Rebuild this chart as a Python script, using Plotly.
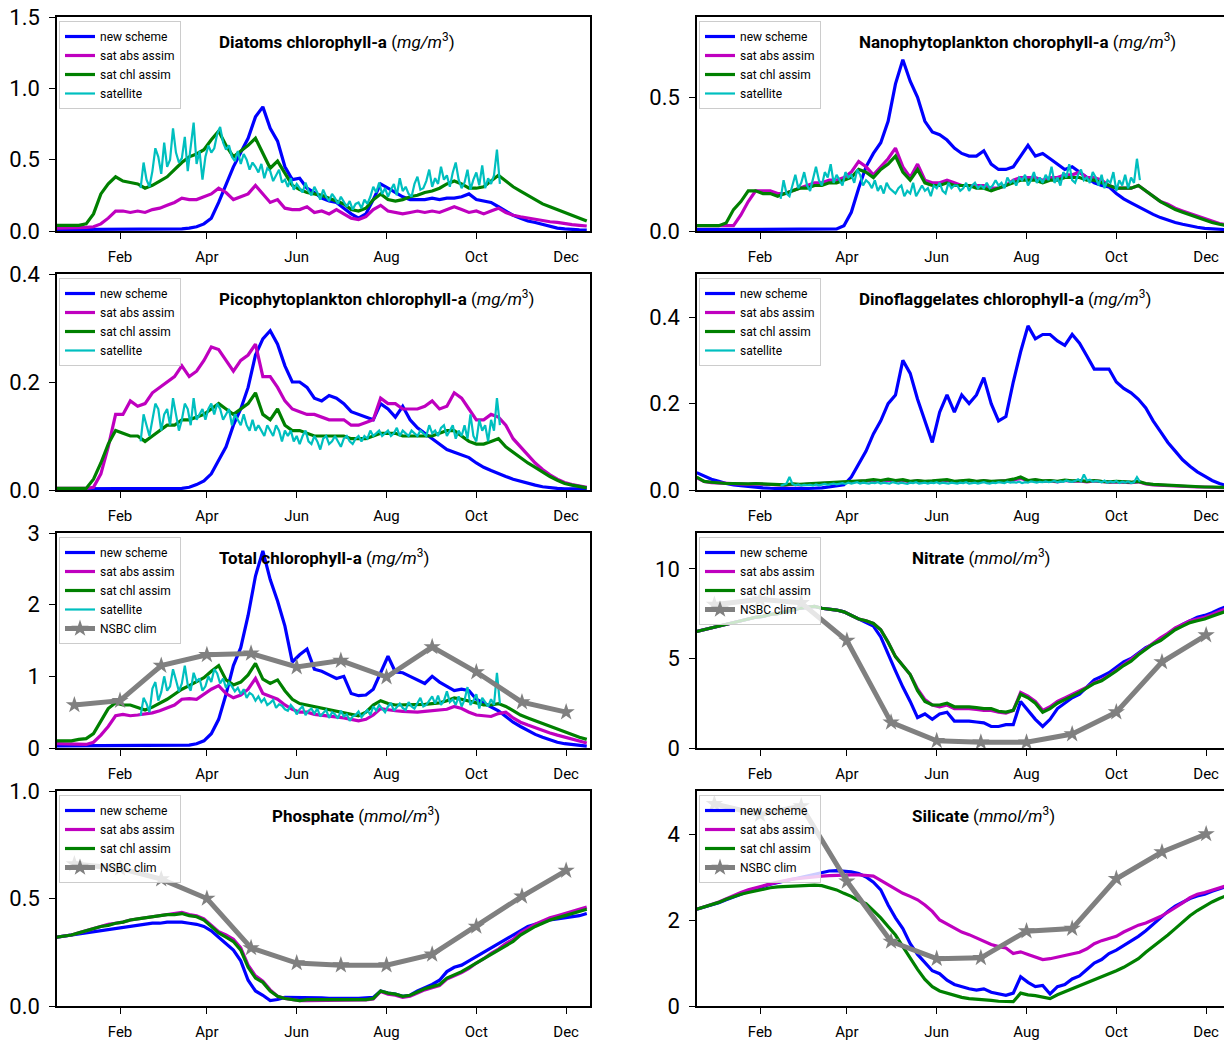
import pandas as pd
import plotly.graph_objects as go

# ---------------------------------------------------------------------------
# Time axes: 5-day model output, 2-day satellite composites, monthly climatology
# ---------------------------------------------------------------------------
model_dates = pd.date_range("2017-12-20", periods=73, freq="5D")
sat_dates = pd.date_range("2018-02-15", periods=123, freq="2D")
clim_dates = pd.date_range("2018-01-01", periods=12, freq="MS")

series_names = ["new scheme", "sat abs assim", "sat chl assim", "satellite", "NSBC clim"]

# ---------------------------------------------------------------- Diatoms
diatoms_new = [
    0.01, 0.01, 0.01,
    0.01, 0.01, 0.01, 0.01, 0.01, 0.01,
    0.01, 0.01, 0.01, 0.01, 0.01, 0.01,
    0.01, 0.01, 0.015, 0.02, 0.03, 0.05,
    0.09, 0.2, 0.33, 0.45, 0.55, 0.65,
    0.8, 0.87, 0.72, 0.63, 0.45, 0.36,
    0.37, 0.3, 0.27, 0.23, 0.21, 0.2,
    0.16, 0.12, 0.09, 0.12, 0.22, 0.33,
    0.3, 0.27, 0.24, 0.22, 0.22, 0.22,
    0.23, 0.22, 0.23, 0.23, 0.24, 0.26,
    0.22, 0.21, 0.2, 0.17, 0.14, 0.11,
    0.09, 0.07, 0.06, 0.045, 0.03, 0.02,
    0.015, 0.01, 0.008, 0.006]
diatoms_abs = [
    0.02, 0.02, 0.02,
    0.02, 0.025, 0.03, 0.05, 0.09, 0.14,
    0.14, 0.13, 0.14, 0.13, 0.15, 0.16,
    0.18, 0.2, 0.23, 0.22, 0.22, 0.24,
    0.26, 0.3, 0.27, 0.22, 0.24, 0.26,
    0.32, 0.26, 0.2, 0.22, 0.16, 0.15,
    0.15, 0.17, 0.13, 0.14, 0.12, 0.15,
    0.12, 0.09, 0.08, 0.1, 0.15, 0.18,
    0.14, 0.13, 0.12, 0.13, 0.14, 0.13,
    0.14, 0.13, 0.15, 0.17, 0.15, 0.13,
    0.14, 0.12, 0.14, 0.16, 0.13, 0.11,
    0.1, 0.09, 0.08, 0.07, 0.065, 0.06,
    0.05, 0.045, 0.04, 0.035]
diatoms_chl = [
    0.04, 0.04, 0.04,
    0.04, 0.05, 0.12, 0.26, 0.33, 0.38,
    0.35, 0.34, 0.33, 0.3, 0.32, 0.35,
    0.38, 0.43, 0.48, 0.52, 0.54, 0.57,
    0.64, 0.7, 0.6, 0.52, 0.56, 0.6,
    0.65, 0.55, 0.44, 0.49, 0.4, 0.32,
    0.29, 0.27, 0.26, 0.25, 0.23, 0.21,
    0.19, 0.15, 0.14, 0.16, 0.22, 0.26,
    0.22, 0.21, 0.22, 0.24, 0.25, 0.27,
    0.28, 0.3, 0.33, 0.35, 0.33, 0.3,
    0.3, 0.31, 0.35, 0.39, 0.35, 0.31,
    0.28, 0.25, 0.22, 0.19, 0.17, 0.15,
    0.13, 0.11, 0.09, 0.07]
diatoms_sat = [
    0.3, 0.48, 0.36, 0.31, 0.42, 0.58, 0.52, 0.4, 0.62, 0.45,
    0.5, 0.72, 0.55, 0.48, 0.51, 0.66, 0.42, 0.6, 0.76, 0.47,
    0.56, 0.36, 0.52, 0.6, 0.55, 0.58, 0.68, 0.73, 0.62, 0.57,
    0.6, 0.52, 0.49, 0.56, 0.47, 0.54, 0.5, 0.43, 0.48, 0.45,
    0.41, 0.47, 0.37, 0.44, 0.42, 0.35, 0.39, 0.43, 0.34, 0.36,
    0.31, 0.37, 0.29, 0.33, 0.3, 0.27, 0.34, 0.28, 0.25, 0.31,
    0.27, 0.22, 0.29, 0.24, 0.21, 0.26, 0.23, 0.19, 0.24, 0.2,
    0.17, 0.21, 0.15, 0.19, 0.2, 0.16, 0.22, 0.19, 0.24, 0.31,
    0.27, 0.34, 0.26, 0.3, 0.24, 0.29, 0.33, 0.25, 0.37, 0.28,
    0.31, 0.26, 0.24, 0.33, 0.38, 0.29, 0.3, 0.35, 0.43, 0.31,
    0.37, 0.33, 0.45, 0.36, 0.39, 0.31, 0.41, 0.48, 0.36, 0.3,
    0.34, 0.43, 0.29, 0.36, 0.41, 0.32, 0.46, 0.3, 0.37, 0.33,
    0.39, 0.57, 0.33]

# ------------------------------------------------------ Nanophytoplankton
nano_new = [
    0.005, 0.005, 0.005,
    0.005, 0.005, 0.005, 0.005, 0.005, 0.005,
    0.005, 0.005, 0.005, 0.005, 0.005, 0.005,
    0.005, 0.005, 0.005, 0.005, 0.008, 0.02,
    0.07, 0.16, 0.24, 0.29, 0.33, 0.41,
    0.55, 0.64, 0.56, 0.5, 0.41, 0.37,
    0.36, 0.34, 0.31, 0.29, 0.28, 0.28,
    0.3, 0.25, 0.23, 0.23, 0.24, 0.28,
    0.32, 0.28, 0.29, 0.27, 0.25, 0.23,
    0.24, 0.22, 0.2, 0.18, 0.17, 0.165,
    0.14, 0.12, 0.105, 0.09, 0.075, 0.062,
    0.05, 0.04, 0.032, 0.025, 0.019, 0.014,
    0.01, 0.008, 0.006, 0.005]
nano_abs = [
    0.02, 0.02, 0.02,
    0.02, 0.02, 0.02, 0.06, 0.11, 0.15,
    0.15, 0.15, 0.14, 0.14, 0.15, 0.16,
    0.17, 0.18, 0.18, 0.19, 0.19, 0.2,
    0.22, 0.26, 0.24, 0.21, 0.24, 0.27,
    0.31, 0.24, 0.2, 0.25, 0.19, 0.18,
    0.18, 0.19, 0.18, 0.17, 0.17, 0.17,
    0.17, 0.16, 0.16, 0.17, 0.19, 0.2,
    0.2, 0.2, 0.19, 0.2, 0.2, 0.21,
    0.21, 0.22, 0.2, 0.2, 0.19, 0.17,
    0.16, 0.16, 0.16, 0.17, 0.15, 0.13,
    0.11, 0.1, 0.085, 0.075, 0.065, 0.055,
    0.045, 0.035, 0.028, 0.022]
nano_chl = [
    0.02, 0.02, 0.02,
    0.02, 0.03, 0.08, 0.11, 0.15, 0.15,
    0.14, 0.14, 0.13, 0.14, 0.15, 0.16,
    0.16, 0.17, 0.17, 0.18, 0.18, 0.19,
    0.2, 0.23, 0.22, 0.2, 0.23, 0.25,
    0.28, 0.22, 0.19, 0.23, 0.18, 0.17,
    0.17, 0.18, 0.17, 0.17, 0.17, 0.16,
    0.16, 0.15, 0.16, 0.17, 0.18, 0.19,
    0.19, 0.19, 0.18, 0.19, 0.19, 0.2,
    0.2, 0.2, 0.19, 0.19, 0.18, 0.17,
    0.16, 0.16, 0.16, 0.17, 0.15, 0.13,
    0.11, 0.095, 0.08, 0.07, 0.06, 0.05,
    0.04, 0.032, 0.025, 0.02]
nano_sat = [
    0.12, 0.19, 0.14, 0.13, 0.17, 0.21, 0.16, 0.18, 0.22, 0.17,
    0.15, 0.2, 0.24, 0.19, 0.17, 0.22, 0.2, 0.25, 0.18, 0.21,
    0.19, 0.17, 0.22, 0.2, 0.21, 0.18, 0.23, 0.21, 0.17, 0.19,
    0.18, 0.16, 0.19, 0.15, 0.17, 0.14, 0.18, 0.16, 0.15, 0.14,
    0.16, 0.17, 0.13, 0.15, 0.14, 0.18, 0.13, 0.15, 0.17, 0.15,
    0.16, 0.13, 0.17, 0.16, 0.18, 0.15, 0.14, 0.18, 0.16, 0.17,
    0.17, 0.15, 0.16, 0.18, 0.15, 0.17, 0.18, 0.16, 0.17, 0.16,
    0.18, 0.16, 0.17, 0.19, 0.17, 0.18, 0.16, 0.2, 0.18, 0.19,
    0.17, 0.2, 0.19, 0.21, 0.17, 0.19, 0.22, 0.18, 0.2, 0.18,
    0.21, 0.19, 0.24, 0.18, 0.2, 0.17, 0.22, 0.2, 0.25, 0.19,
    0.18, 0.21, 0.23, 0.19, 0.2, 0.18, 0.22, 0.2, 0.17, 0.21,
    0.16, 0.19, 0.18, 0.22, 0.15, 0.19, 0.17, 0.21, 0.16, 0.2,
    0.18, 0.27, 0.19]

# ------------------------------------------------------ Picophytoplankton
pico_new = [
    0.002, 0.002, 0.002,
    0.002, 0.002, 0.002, 0.002, 0.002, 0.002,
    0.002, 0.002, 0.002, 0.002, 0.002, 0.002,
    0.002, 0.002, 0.003, 0.005, 0.01, 0.017,
    0.03, 0.055, 0.08, 0.12, 0.15, 0.19,
    0.25, 0.28, 0.295, 0.27, 0.23, 0.2,
    0.2, 0.19, 0.17, 0.165, 0.175, 0.17,
    0.16, 0.145, 0.14, 0.135, 0.13, 0.16,
    0.15, 0.135, 0.155, 0.13, 0.115, 0.105,
    0.095, 0.085, 0.075, 0.07, 0.065, 0.06,
    0.05, 0.042, 0.036, 0.03, 0.025, 0.02,
    0.016, 0.012, 0.009, 0.006, 0.004, 0.003,
    0.002, 0.002, 0.002, 0.002]
pico_abs = [
    0.003, 0.003, 0.003,
    0.003, 0.003, 0.005, 0.03, 0.08, 0.14,
    0.14, 0.165, 0.155, 0.16, 0.18, 0.19,
    0.2, 0.21, 0.23, 0.21, 0.22, 0.24,
    0.265, 0.26, 0.24, 0.22, 0.24, 0.25,
    0.27, 0.21, 0.21, 0.19, 0.165, 0.15,
    0.145, 0.14, 0.14, 0.135, 0.13, 0.13,
    0.13, 0.12, 0.12, 0.125, 0.13, 0.17,
    0.16, 0.16, 0.15, 0.15, 0.15, 0.155,
    0.165, 0.15, 0.155, 0.18, 0.17, 0.15,
    0.13, 0.13, 0.14, 0.135, 0.12, 0.095,
    0.08, 0.065, 0.05, 0.038, 0.028, 0.02,
    0.014, 0.01, 0.007, 0.005]
pico_chl = [
    0.003, 0.003, 0.003,
    0.003, 0.003, 0.02, 0.05, 0.085, 0.11,
    0.105, 0.1, 0.1, 0.09, 0.1, 0.11,
    0.12, 0.12, 0.13, 0.13, 0.135, 0.14,
    0.15, 0.16, 0.15, 0.14, 0.15, 0.16,
    0.18, 0.14, 0.13, 0.15, 0.12, 0.11,
    0.11, 0.105, 0.1, 0.1, 0.1, 0.1,
    0.1, 0.095, 0.095, 0.095, 0.1, 0.105,
    0.105, 0.105, 0.1, 0.1, 0.1, 0.1,
    0.1, 0.105, 0.11, 0.11, 0.1, 0.09,
    0.085, 0.085, 0.09, 0.095, 0.08, 0.07,
    0.06, 0.05, 0.042, 0.033, 0.025, 0.018,
    0.012, 0.009, 0.006, 0.004]
pico_sat = [
    0.09, 0.14, 0.12, 0.1, 0.13, 0.16, 0.15, 0.11, 0.14, 0.15,
    0.12, 0.17, 0.14, 0.11, 0.13, 0.16, 0.15, 0.12, 0.17, 0.13,
    0.14, 0.15, 0.13, 0.15, 0.16, 0.14, 0.16, 0.15, 0.13, 0.14,
    0.15, 0.12, 0.14, 0.13, 0.12, 0.14, 0.12, 0.11, 0.13, 0.11,
    0.12, 0.11, 0.1, 0.12, 0.11, 0.1, 0.12, 0.11, 0.09, 0.11,
    0.1, 0.11, 0.09, 0.1, 0.085, 0.1, 0.11, 0.09, 0.085, 0.1,
    0.09, 0.075, 0.095, 0.1, 0.085, 0.09, 0.1, 0.09, 0.08, 0.095,
    0.1, 0.09, 0.085, 0.095, 0.1, 0.09, 0.1, 0.095, 0.11, 0.1,
    0.105, 0.11, 0.1, 0.105, 0.11, 0.1, 0.105, 0.115, 0.1, 0.11,
    0.105, 0.1, 0.11, 0.105, 0.1, 0.11, 0.105, 0.1, 0.12, 0.105,
    0.11, 0.1, 0.115, 0.12, 0.1, 0.11, 0.12, 0.095, 0.11, 0.1,
    0.12, 0.095, 0.14, 0.1, 0.09, 0.13, 0.11, 0.12, 0.09, 0.13,
    0.11, 0.17, 0.12]

# -------------------------------------------------------- Dinoflagellates
dino_new = [
    0.04, 0.032, 0.025,
    0.02, 0.015, 0.012, 0.01, 0.008, 0.006,
    0.005, 0.004, 0.003, 0.003, 0.003, 0.003,
    0.003, 0.004, 0.005, 0.007, 0.01, 0.012,
    0.03, 0.06, 0.09, 0.13, 0.16, 0.2,
    0.22, 0.3, 0.27, 0.21, 0.16, 0.11,
    0.18, 0.22, 0.18, 0.22, 0.2, 0.22,
    0.26, 0.2, 0.16, 0.17, 0.25, 0.32,
    0.38, 0.35, 0.36, 0.36, 0.345, 0.335,
    0.36, 0.34, 0.31, 0.28, 0.28, 0.28,
    0.25, 0.235, 0.225, 0.21, 0.19, 0.16,
    0.135, 0.11, 0.09, 0.07, 0.055, 0.042,
    0.032, 0.022, 0.015, 0.01]
dino_abs = [
    0.028, 0.02, 0.017,
    0.016, 0.015, 0.014, 0.014, 0.013, 0.014,
    0.013, 0.012, 0.012, 0.011, 0.013, 0.012,
    0.013, 0.014, 0.015, 0.016, 0.017, 0.018,
    0.019, 0.019, 0.021, 0.022, 0.021, 0.023,
    0.021, 0.022, 0.019, 0.021, 0.019, 0.02,
    0.021, 0.022, 0.019, 0.021, 0.022, 0.019,
    0.021, 0.019, 0.02, 0.021, 0.023, 0.027,
    0.021, 0.023, 0.02, 0.021, 0.019, 0.022,
    0.02, 0.021, 0.019, 0.021, 0.019, 0.018,
    0.019, 0.018, 0.017, 0.019, 0.014, 0.012,
    0.011, 0.01, 0.009, 0.008, 0.008, 0.007,
    0.007, 0.006, 0.006, 0.005]
dino_chl = [
    0.03, 0.02, 0.018,
    0.016, 0.015, 0.015, 0.014, 0.014, 0.015,
    0.014, 0.013, 0.012, 0.012, 0.014, 0.013,
    0.014, 0.015, 0.016, 0.017, 0.018, 0.019,
    0.02, 0.02, 0.022, 0.024, 0.022, 0.025,
    0.022, 0.024, 0.02, 0.022, 0.02, 0.021,
    0.022, 0.024, 0.02, 0.022, 0.023, 0.02,
    0.022, 0.02, 0.021, 0.022, 0.025, 0.03,
    0.022, 0.024, 0.021, 0.022, 0.02, 0.023,
    0.021, 0.022, 0.02, 0.022, 0.02, 0.019,
    0.02, 0.019, 0.018, 0.02, 0.015, 0.013,
    0.012, 0.011, 0.01, 0.009, 0.008, 0.008,
    0.007, 0.007, 0.006, 0.006]
dino_sat = [
    0.01, 0.012, 0.015, 0.03, 0.014, 0.011, 0.013, 0.01, 0.012, 0.011,
    0.012, 0.01, 0.013, 0.011, 0.012, 0.014, 0.012, 0.013, 0.015, 0.013,
    0.014, 0.016, 0.014, 0.017, 0.015, 0.016, 0.018, 0.015, 0.017, 0.016,
    0.015, 0.017, 0.016, 0.018, 0.015, 0.017, 0.016, 0.015, 0.018, 0.016,
    0.015, 0.017, 0.016, 0.014, 0.017, 0.016, 0.018, 0.015, 0.016, 0.017,
    0.015, 0.017, 0.016, 0.018, 0.015, 0.017, 0.016, 0.015, 0.017, 0.016,
    0.015, 0.017, 0.016, 0.018, 0.015, 0.016, 0.017, 0.015, 0.016, 0.018,
    0.016, 0.015, 0.017, 0.016, 0.018, 0.017, 0.016, 0.019, 0.017, 0.018,
    0.017, 0.019, 0.016, 0.018, 0.017, 0.02, 0.018, 0.017, 0.019, 0.018,
    0.02, 0.018, 0.019, 0.021, 0.018, 0.02, 0.019, 0.022, 0.02, 0.019,
    0.021, 0.025, 0.02, 0.036, 0.022, 0.024, 0.019, 0.021, 0.02, 0.018,
    0.022, 0.017, 0.02, 0.018, 0.021, 0.016, 0.019, 0.017, 0.02, 0.016,
    0.018, 0.03, 0.019]

# ---------------------------------------------------------- Total chl-a
total_new = [
    0.03, 0.03, 0.03,
    0.03, 0.03, 0.03, 0.03, 0.03, 0.03,
    0.03, 0.03, 0.03, 0.03, 0.03, 0.03,
    0.03, 0.03, 0.035, 0.04, 0.06, 0.1,
    0.2, 0.4, 0.75, 1.15, 1.4, 1.85,
    2.4, 2.75, 2.35, 2.05, 1.7, 1.2,
    1.3, 1.38, 1.1, 1.07, 1.02, 0.97,
    1.0, 0.76, 0.73, 0.74, 0.82, 1.05,
    1.28, 1.06, 1.05, 1.0, 0.95, 0.9,
    1.0, 0.92, 0.86, 0.8, 0.82, 0.8,
    0.68, 0.63, 0.58, 0.52, 0.44, 0.36,
    0.3, 0.24, 0.19, 0.15, 0.11, 0.08,
    0.06, 0.045, 0.035, 0.025]
total_abs = [
    0.06, 0.06, 0.05,
    0.05, 0.05, 0.08, 0.18, 0.3, 0.45,
    0.47, 0.45, 0.46, 0.47, 0.49, 0.52,
    0.56, 0.6, 0.68, 0.69, 0.68, 0.75,
    0.82, 0.87, 0.76, 0.7, 0.74, 0.82,
    0.97, 0.76, 0.72, 0.68, 0.6, 0.54,
    0.5, 0.5, 0.47, 0.46, 0.44, 0.44,
    0.42, 0.4, 0.38, 0.4, 0.46, 0.55,
    0.53, 0.52, 0.51, 0.5, 0.5, 0.51,
    0.52, 0.52, 0.54, 0.58, 0.55, 0.5,
    0.46, 0.45, 0.44, 0.48, 0.5, 0.42,
    0.36, 0.32, 0.28, 0.24, 0.21, 0.18,
    0.15, 0.12, 0.09, 0.07]
total_chl = [
    0.1, 0.1, 0.1,
    0.12, 0.13, 0.2, 0.38, 0.55, 0.63,
    0.6, 0.6, 0.57, 0.53, 0.57, 0.62,
    0.68, 0.75, 0.82, 0.87, 0.93, 0.98,
    1.07, 1.15, 0.95, 0.88, 0.92, 1.02,
    1.18, 0.96, 0.9, 0.95, 0.8, 0.68,
    0.62, 0.6, 0.58, 0.55, 0.53, 0.52,
    0.5, 0.47, 0.45, 0.5, 0.6, 0.66,
    0.62, 0.6, 0.6, 0.6, 0.6, 0.61,
    0.62, 0.63, 0.66, 0.7, 0.68, 0.66,
    0.63, 0.6, 0.6, 0.62, 0.58, 0.52,
    0.46, 0.42, 0.38, 0.34, 0.3, 0.26,
    0.22, 0.19, 0.15, 0.12]
total_sat = [
    0.45, 0.7, 0.62, 0.5, 0.83, 0.92, 0.66, 0.78, 1.0, 0.8,
    0.86, 1.1, 0.95, 0.79, 0.9, 1.15, 0.88, 0.8, 1.05, 0.93,
    0.97, 0.8, 0.86, 1.0, 0.92, 1.1, 1.04, 0.9, 0.97, 0.84,
    0.91, 0.86, 0.79, 0.84, 0.75, 0.82, 0.7, 0.77, 0.74, 0.66,
    0.72, 0.64, 0.69, 0.6, 0.63, 0.67, 0.56, 0.61, 0.59, 0.54,
    0.52, 0.6, 0.55, 0.47, 0.54, 0.58, 0.46, 0.52, 0.55, 0.48,
    0.55, 0.44, 0.49, 0.53, 0.42, 0.5, 0.47, 0.41, 0.52, 0.44,
    0.47, 0.38, 0.44, 0.46, 0.51, 0.43, 0.48, 0.53, 0.46, 0.58,
    0.52, 0.6, 0.55, 0.5, 0.58, 0.63, 0.52, 0.57, 0.62, 0.56,
    0.53, 0.64, 0.58, 0.55, 0.62, 0.7, 0.58, 0.6, 0.66, 0.72,
    0.62, 0.73, 0.6, 0.66, 0.79, 0.64, 0.68, 0.6, 0.72, 0.58,
    0.67, 0.85, 0.6, 0.66, 0.75, 0.55, 0.7, 0.64, 0.58, 0.68,
    0.6, 1.05, 0.62]
total_clim = [0.6, 0.66, 1.15, 1.3, 1.32, 1.13, 1.22, 0.99, 1.41, 1.06, 0.64, 0.5]

# --------------------------------------------------------------- Nitrate
nitrate_new = [
    6.5, 6.6, 6.7,
    6.8, 6.9, 7.0, 7.1, 7.2, 7.3,
    7.35, 7.45, 7.5, 7.6, 7.7, 7.8,
    7.85, 7.9, 7.8, 7.75, 7.7, 7.6,
    7.4, 7.2, 7.0, 6.8, 6.2, 5.2,
    4.3, 3.4, 2.6, 1.7, 1.9, 1.6,
    1.9, 2.0, 1.5, 1.5, 1.5, 1.45,
    1.4, 1.2, 1.2, 1.3, 1.3, 2.6,
    2.1, 1.6, 1.2, 1.6, 2.2, 2.5,
    2.8, 3.0, 3.4, 3.8, 4.0, 4.2,
    4.5, 4.8, 5.0, 5.3, 5.6, 5.8,
    6.1, 6.4, 6.65, 6.9, 7.1, 7.3,
    7.4, 7.55, 7.75, 7.9]
nitrate_abs = [
    6.5, 6.6, 6.7,
    6.8, 6.9, 7.0, 7.1, 7.2, 7.3,
    7.35, 7.45, 7.5, 7.6, 7.7, 7.8,
    7.85, 7.9, 7.8, 7.75, 7.7, 7.6,
    7.4, 7.2, 7.1, 6.95, 6.6, 5.9,
    5.1, 4.6, 4.1, 3.3, 2.7, 2.4,
    2.3, 2.4, 2.2, 2.2, 2.2, 2.15,
    2.1, 2.1, 2.0, 1.95, 2.1, 3.1,
    2.9, 2.6, 2.1, 2.3, 2.6, 2.8,
    3.0, 3.2, 3.4, 3.65, 3.8, 4.05,
    4.35, 4.65, 4.95, 5.3, 5.6, 5.9,
    6.15, 6.4, 6.7, 6.9, 7.1, 7.2,
    7.3, 7.45, 7.6, 7.8]
nitrate_chl = [
    6.5, 6.6, 6.7,
    6.8, 6.9, 7.0, 7.1, 7.2, 7.3,
    7.35, 7.45, 7.5, 7.6, 7.7, 7.8,
    7.85, 7.9, 7.8, 7.75, 7.7, 7.6,
    7.4, 7.2, 7.1, 6.95, 6.6, 5.9,
    5.1, 4.6, 4.1, 3.2, 2.6, 2.4,
    2.4, 2.5, 2.3, 2.3, 2.3, 2.25,
    2.2, 2.2, 2.05, 2.0, 2.1, 3.0,
    2.8, 2.5, 2.0, 2.2, 2.5, 2.7,
    2.9, 3.1, 3.35, 3.6, 3.75, 4.0,
    4.3, 4.6, 4.85, 5.2, 5.5, 5.8,
    6.0, 6.3, 6.6, 6.8, 7.0, 7.1,
    7.2, 7.35, 7.5, 7.65]
nitrate_clim = [8.0, 8.3, 8.1, 6.0, 1.43, 0.4, 0.32, 0.32, 0.78, 2.0, 4.8, 6.3]

# ------------------------------------------------------------- Phosphate
phosphate_new = [
    0.32, 0.325, 0.33,
    0.335, 0.34, 0.345, 0.35, 0.355, 0.36,
    0.365, 0.37, 0.375, 0.38, 0.385, 0.385,
    0.39, 0.39, 0.39, 0.385, 0.38, 0.37,
    0.35, 0.32, 0.29, 0.26, 0.21, 0.12,
    0.07, 0.05, 0.025, 0.03, 0.04, 0.04,
    0.04, 0.04, 0.04, 0.038, 0.036, 0.035,
    0.035, 0.035, 0.036, 0.038, 0.04, 0.07,
    0.06, 0.055, 0.045, 0.05, 0.07, 0.085,
    0.1, 0.12, 0.16, 0.18, 0.19, 0.21,
    0.23, 0.25, 0.27, 0.29, 0.31, 0.33,
    0.35, 0.37, 0.38, 0.39, 0.4, 0.405,
    0.41, 0.415, 0.42, 0.43]
phosphate_abs = [
    0.32, 0.325, 0.33,
    0.34, 0.35, 0.36, 0.37, 0.38, 0.385,
    0.39, 0.4, 0.405, 0.41, 0.415, 0.42,
    0.425, 0.43, 0.435, 0.425, 0.42, 0.405,
    0.375, 0.345, 0.33, 0.31, 0.27, 0.19,
    0.14, 0.115, 0.075, 0.045, 0.035, 0.03,
    0.025, 0.025, 0.025, 0.025, 0.025, 0.025,
    0.025, 0.025, 0.025, 0.028, 0.033, 0.068,
    0.055, 0.05, 0.04, 0.045, 0.06, 0.075,
    0.085, 0.095, 0.125, 0.14, 0.155, 0.175,
    0.2, 0.22, 0.245, 0.265, 0.29, 0.31,
    0.34, 0.36, 0.38, 0.395, 0.41, 0.42,
    0.43, 0.44, 0.45, 0.46]
phosphate_chl = [
    0.32, 0.325, 0.33,
    0.34, 0.35, 0.36, 0.37, 0.375, 0.385,
    0.39, 0.4, 0.405, 0.41, 0.415, 0.42,
    0.425, 0.425, 0.43, 0.42, 0.415, 0.4,
    0.37, 0.34, 0.32, 0.3, 0.26, 0.18,
    0.13, 0.11, 0.07, 0.045, 0.035, 0.03,
    0.025, 0.03, 0.03, 0.03, 0.03, 0.03,
    0.03, 0.028, 0.028, 0.03, 0.035, 0.07,
    0.06, 0.055, 0.045, 0.05, 0.065, 0.08,
    0.09, 0.1, 0.13, 0.145, 0.16, 0.18,
    0.2, 0.22, 0.24, 0.26, 0.28, 0.3,
    0.33, 0.35, 0.37, 0.385, 0.4, 0.41,
    0.42, 0.43, 0.44, 0.45]
phosphate_clim = [0.66, 0.64, 0.59, 0.5, 0.27, 0.2, 0.19, 0.19, 0.24, 0.37, 0.51, 0.63]

# -------------------------------------------------------------- Silicate
silicate_new = [
    2.25, 2.3, 2.35,
    2.4, 2.47, 2.53, 2.6, 2.67, 2.73,
    2.78, 2.83, 2.87, 2.9, 2.95, 2.98,
    3.02, 3.06, 3.1, 3.14, 3.15, 3.14,
    3.12, 3.08, 3.0, 2.88, 2.7, 2.35,
    2.05, 1.8, 1.45, 1.2, 1.0, 0.82,
    0.75, 0.6, 0.5, 0.45, 0.4, 0.37,
    0.4, 0.32, 0.28, 0.25, 0.3, 0.68,
    0.55, 0.45, 0.48, 0.28, 0.45, 0.5,
    0.63, 0.7, 0.85, 1.0, 1.08, 1.22,
    1.3, 1.4, 1.5, 1.62, 1.75, 1.9,
    2.05, 2.2, 2.32, 2.42, 2.5, 2.56,
    2.6, 2.67, 2.72, 2.78]
silicate_abs = [
    2.25, 2.3, 2.36,
    2.42, 2.5, 2.57, 2.64, 2.7, 2.75,
    2.8, 2.84, 2.88, 2.92, 2.95, 2.97,
    2.99, 3.0, 3.02, 3.03, 3.04, 3.05,
    3.05, 3.05, 3.04, 3.02, 2.92, 2.82,
    2.7, 2.62, 2.55, 2.47, 2.35, 2.2,
    2.0, 1.9, 1.8, 1.72, 1.66, 1.58,
    1.5, 1.43, 1.38, 1.35, 1.22, 1.26,
    1.2, 1.14, 1.08, 1.1, 1.14, 1.18,
    1.22, 1.25, 1.33, 1.45, 1.52, 1.57,
    1.62, 1.72, 1.8, 1.88, 1.93, 2.0,
    2.08, 2.18, 2.28, 2.4, 2.52, 2.6,
    2.64, 2.7, 2.75, 2.8]
silicate_chl = [
    2.25, 2.3, 2.35,
    2.41, 2.48, 2.54, 2.6, 2.64, 2.68,
    2.72, 2.75, 2.77, 2.78, 2.79, 2.8,
    2.8, 2.81, 2.8, 2.75, 2.7, 2.62,
    2.55, 2.45, 2.38, 2.22, 2.05, 1.85,
    1.65, 1.38, 1.1, 0.85, 0.62, 0.45,
    0.35, 0.3, 0.25, 0.2, 0.17, 0.16,
    0.15, 0.13, 0.11, 0.1, 0.1, 0.3,
    0.26, 0.24, 0.2, 0.17, 0.26, 0.33,
    0.38, 0.45, 0.52, 0.6, 0.68, 0.75,
    0.82, 0.9, 1.0, 1.1, 1.25, 1.38,
    1.5, 1.65, 1.8, 1.95, 2.1, 2.22,
    2.33, 2.42, 2.5, 2.57]
silicate_clim = [4.7, 4.45, 4.65, 2.9, 1.5, 1.1, 1.12, 1.74, 1.8, 2.96, 3.58, 4.0]

# ---------------------------------------------------------------------------
# Panel definitions (row-major: left column then right column)
# ---------------------------------------------------------------------------
panels = [
    dict(name="Diatoms chlorophyll-a", unit="mg/m", yr=[0, 1.5], tv=[0, 0.5, 1.0, 1.5], fmt=".1f",
         tx=0.30, model=[diatoms_new, diatoms_abs, diatoms_chl], sat=diatoms_sat, clim=None),
    dict(name="Nanophytoplankton chorophyll-a", unit="mg/m", yr=[0, 0.8], tv=[0, 0.5], fmt=".1f",
         tx=0.30, model=[nano_new, nano_abs, nano_chl], sat=nano_sat, clim=None),
    dict(name="Picophytoplankton chlorophyll-a", unit="mg/m", yr=[0, 0.4], tv=[0, 0.2, 0.4], fmt=".1f",
         tx=0.30, model=[pico_new, pico_abs, pico_chl], sat=pico_sat, clim=None),
    dict(name="Dinoflaggelates chlorophyll-a", unit="mg/m", yr=[0, 0.5], tv=[0, 0.2, 0.4], fmt=".1f",
         tx=0.30, model=[dino_new, dino_abs, dino_chl], sat=dino_sat, clim=None),
    dict(name="Total chlorophyll-a", unit="mg/m", yr=[0, 3], tv=[0, 1, 2, 3], fmt="d",
         tx=0.30, model=[total_new, total_abs, total_chl], sat=total_sat, clim=total_clim),
    dict(name="Nitrate", unit="mmol/m", yr=[0, 12], tv=[0, 5, 10], fmt="d",
         tx=0.40, model=[nitrate_new, nitrate_abs, nitrate_chl], sat=None, clim=nitrate_clim),
    dict(name="Phosphate", unit="mmol/m", yr=[0, 1.0], tv=[0, 0.5, 1.0], fmt=".1f",
         tx=0.40, model=[phosphate_new, phosphate_abs, phosphate_chl], sat=None, clim=phosphate_clim),
    dict(name="Silicate", unit="mmol/m", yr=[0, 5], tv=[0, 2, 4], fmt="d",
         tx=0.40, model=[silicate_new, silicate_abs, silicate_chl], sat=None, clim=silicate_clim),
]

model_colors = ["#0000ff", "#bf00bf", "#008000"]
sat_color = "#00bfbf"
clim_color = "#808080"

W, H = 1224, 1045
col_px = [(57, 590), (697, 1229)]
row_px = [(17, 231), (274, 490), (533, 748), (791, 1006)]

# x window: the same day-per-pixel scale in both columns
jan1 = pd.Timestamp("2018-01-01")
x_start_day, x_end_day = -11.8, 350.2
px_per_day = (col_px[0][1] - col_px[0][0]) / (x_end_day - x_start_day)

FONT = "Roboto, Liberation Sans, DejaVu Sans, sans-serif"

fig = go.Figure()
annotations = []
layout = dict(width=W, height=H,
              margin=dict(l=0, r=0, t=0, b=0, pad=0, autoexpand=False),
              paper_bgcolor="white", plot_bgcolor="white", showlegend=True,
              font=dict(family=FONT, color="black"))

for i, p in enumerate(panels):
    r, c = divmod(i, 2)
    k = i + 1
    xa = "x" if k == 1 else f"x{k}"
    ya = "y" if k == 1 else f"y{k}"
    lg = "legend" if k == 1 else f"legend{k}"

    left, right = col_px[c]
    top, bottom = row_px[r]
    right_vis = min(right, W)
    end_day = x_start_day + (right_vis - left) / px_per_day

    for j, vals in enumerate(p["model"]):
        fig.add_trace(go.Scatter(x=model_dates, y=vals, mode="lines", name=series_names[j],
                                 line=dict(color=model_colors[j], width=3.2),
                                 xaxis=xa, yaxis=ya, legend=lg))
    if p["sat"] is not None:
        fig.add_trace(go.Scatter(x=sat_dates, y=p["sat"], mode="lines", name="satellite",
                                 line=dict(color=sat_color, width=2.2),
                                 xaxis=xa, yaxis=ya, legend=lg))
    if p["clim"] is not None:
        fig.add_trace(go.Scatter(x=clim_dates, y=p["clim"], mode="lines+markers", name="NSBC clim",
                                 line=dict(color=clim_color, width=5),
                                 marker=dict(symbol="star", size=13, color=clim_color),
                                 xaxis=xa, yaxis=ya, legend=lg))

    layout["xaxis" if k == 1 else f"xaxis{k}"] = dict(
        domain=[left / W, right_vis / W], anchor=ya, type="date",
        range=[jan1 + pd.Timedelta(days=x_start_day), jan1 + pd.Timedelta(days=end_day)],
        tickformat="%b", dtick="M2", tick0="2018-02-01",
        showline=True, linecolor="black", linewidth=1.5, mirror=True,
        ticks="outside", ticklen=6, tickwidth=1.2, tickcolor="black", ticklabelstandoff=5,
        tickfont=dict(family=FONT, size=15), showgrid=False, zeroline=False, automargin=False)
    layout["yaxis" if k == 1 else f"yaxis{k}"] = dict(
        domain=[1 - bottom / H, 1 - top / H], anchor=xa, range=p["yr"],
        tickvals=p["tv"], tickformat=p["fmt"],
        showline=True, linecolor="black", linewidth=1.5, mirror=(c == 0),
        ticks="outside", ticklen=6, tickwidth=1.2, tickcolor="black", ticklabelstandoff=5,
        tickfont=dict(family=FONT, size=22), showgrid=False, zeroline=False, automargin=False)
    layout[lg] = dict(x=(left + 2) / W, y=1 - (top + 4) / H, xanchor="left", yanchor="top",
                      bgcolor="rgba(255,255,255,0.8)", bordercolor="#cccccc", borderwidth=1,
                      font=dict(family=FONT, size=12), tracegroupgap=0)

    annotations.append(dict(
        xref="paper", yref="paper", x=(left + p["tx"] * 533) / W, y=1 - (top + 24) / H,
        xanchor="left", yanchor="middle", showarrow=False,
        text=f"<b>{p['name']}</b> (<i>{p['unit']}</i><sup>3</sup>)",
        font=dict(family=FONT, size=17, color="black")))

layout["annotations"] = annotations
fig.update_layout(**layout)
fig.write_html("out.html")
